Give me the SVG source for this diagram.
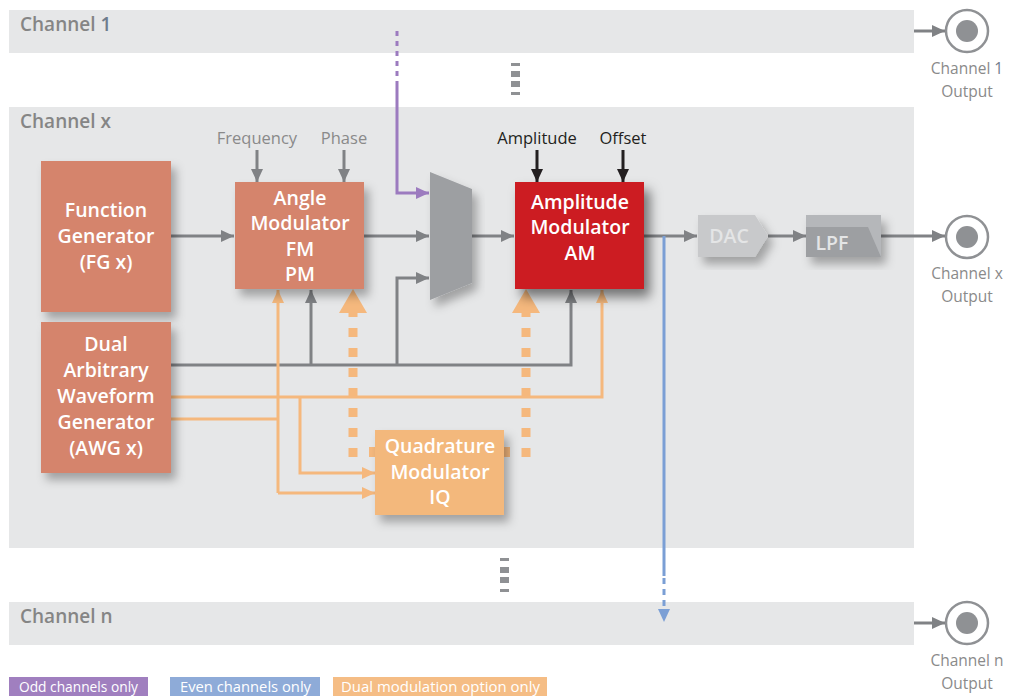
<svg xmlns="http://www.w3.org/2000/svg" width="1011" height="696" viewBox="0 0 1011 696">
<style>
.band{fill:#e6e7e8}
.chl{font-family:"Open Sans","Noto Sans",sans-serif;font-size:19px;font-weight:600;fill:#858585}
.outl{font-family:"Open Sans","Noto Sans",sans-serif;font-size:15.5px;fill:#8a8a8a;text-anchor:middle}
.box{font-family:"Open Sans","Noto Sans",sans-serif;font-size:19.5px;font-weight:600;fill:#ffffff;text-anchor:middle}
.lbl{font-family:"Open Sans","Noto Sans",sans-serif;font-size:16.5px;fill:#8a8a8a;text-anchor:middle}
.lblk{font-family:"Open Sans","Noto Sans",sans-serif;font-size:16.5px;fill:#231f20;text-anchor:middle}
.leg{font-family:"Open Sans","Noto Sans",sans-serif;font-size:15px;fill:#ffffff}
.g{fill:none;stroke:#808285;stroke-width:3}
.k{fill:none;stroke:#231f20;stroke-width:3}
.o{fill:none;stroke:#f5b87d;stroke-width:3}
.od{fill:none;stroke:#f5b87d;stroke-width:9;stroke-dasharray:9 11}
.p{fill:none;stroke:#9c7bbf;stroke-width:3}
.b{fill:none;stroke:#7b9fd5;stroke-width:3}
.ring{fill:none;stroke:#8f9194;stroke-width:2.5}
.dot{fill:#8f9194}
</style>
<defs>
<filter id="sh" x="-20%" y="-20%" width="150%" height="150%">
<feDropShadow dx="5" dy="7" stdDeviation="5" flood-color="#000" flood-opacity="0.3"/>
</filter>
<filter id="shd" x="-20%" y="-20%" width="150%" height="150%">
<feDropShadow dx="6" dy="8" stdDeviation="6" flood-color="#000" flood-opacity="0.5"/>
</filter>
<marker id="ag" markerUnits="userSpaceOnUse" markerWidth="14" markerHeight="14" refX="13" refY="7" orient="auto"><path d="M0,1 L13,7 L0,13 z" fill="#808285"/></marker>
<marker id="ak" markerUnits="userSpaceOnUse" markerWidth="14" markerHeight="14" refX="13" refY="7" orient="auto"><path d="M0,1 L13,7 L0,13 z" fill="#231f20"/></marker>
<marker id="ao" markerUnits="userSpaceOnUse" markerWidth="14" markerHeight="14" refX="13" refY="7" orient="auto"><path d="M0,1 L13,7 L0,13 z" fill="#f5b87d"/></marker>
<marker id="ap" markerUnits="userSpaceOnUse" markerWidth="14" markerHeight="14" refX="13" refY="7" orient="auto"><path d="M0,1 L13,7 L0,13 z" fill="#9c7bbf"/></marker>
<marker id="ab" markerUnits="userSpaceOnUse" markerWidth="14" markerHeight="14" refX="13" refY="7" orient="auto"><path d="M0,1 L13,7 L0,13 z" fill="#7b9fd5"/></marker>
</defs>

<g id="channel1">
<rect class="band" x="9" y="10" width="905" height="43"/>
<text class="chl" x="20" y="31">Channel <tspan fill="#6f7c8c">1</tspan></text>
</g>
<g id="channelx">
<rect class="band" x="9" y="107" width="905" height="441"/>
<text class="chl" x="20" y="128">Channel x</text>
</g>
<g id="channeln">
<rect class="band" x="9" y="602" width="905" height="43"/>
<text class="chl" x="20" y="623">Channel n</text>
</g>

<g id="ellipsis1" fill="#8f9194">
<rect x="511" y="63" width="9" height="3"/><rect x="511" y="71" width="9" height="6"/><rect x="511" y="81" width="9" height="6"/><rect x="511" y="92" width="9" height="3"/>
</g>
<g id="ellipsis2" fill="#8f9194">
<rect x="500" y="558" width="9" height="3"/><rect x="500" y="567" width="9" height="6"/><rect x="500" y="577" width="9" height="6"/><rect x="500" y="589" width="9" height="3"/>
</g>

<g id="out1">
<circle class="ring" cx="967" cy="31" r="21"/><circle class="dot" cx="967" cy="31" r="11"/>
<text class="outl" x="967" y="74">Channel <tspan fill="#6f7c8c">1</tspan></text>
<text class="outl" x="967" y="97">Output</text>
</g>
<g id="outx">
<circle class="ring" cx="967" cy="237" r="21"/><circle class="dot" cx="967" cy="237" r="11"/>
<text class="outl" x="967" y="279">Channel x</text>
<text class="outl" x="967" y="302">Output</text>
</g>
<g id="outn">
<circle class="ring" cx="967" cy="623" r="21"/><circle class="dot" cx="967" cy="623" r="11"/>
<text class="outl" x="967" y="666">Channel n</text>
<text class="outl" x="967" y="689">Output</text>
</g>

<g id="labels">
<text class="lbl" x="257" y="144">Frequency</text>
<text class="lbl" x="344" y="144">Phase</text>
<text class="lblk" x="537" y="144">Amplitude</text>
<text class="lblk" x="623" y="144">Offset</text>
</g>

<g id="connectors">
<path class="g" d="M171,236 H234" marker-end="url(#ag)"/>
<path class="g" d="M364,236 H429" marker-end="url(#ag)"/>
<path class="g" d="M472,236 H514" marker-end="url(#ag)"/>
<path class="g" d="M257,150 V182" marker-end="url(#ag)"/>
<path class="g" d="M344,150 V182" marker-end="url(#ag)"/>
<path class="k" d="M537,150 V182" marker-end="url(#ak)"/>
<path class="k" d="M623,150 V182" marker-end="url(#ak)"/>
<path class="g" d="M170,365 H571 V290" marker-end="url(#ag)"/>
<path class="g" d="M311,365 V290" marker-end="url(#ag)"/>
<path class="g" d="M397,365 V278 H429" marker-end="url(#ag)"/>
<path class="g" d="M644,236 H697" marker-end="url(#ag)"/>
<path class="g" d="M768,236 H806" marker-end="url(#ag)"/>
<path class="g" d="M881,236 H945" marker-end="url(#ag)"/>
<path class="g" d="M914,31 H945" marker-end="url(#ag)"/>
<path class="g" d="M914,623 H945" marker-end="url(#ag)"/>
<path class="p" d="M397,31 V82" stroke-dasharray="5 5"/>
<path class="p" d="M397,82 V193 H429" marker-end="url(#ap)"/>
<path class="b" d="M664,236 V576"/>
<path class="b" d="M664,578 V622" stroke-dasharray="6 5" marker-end="url(#ab)"/>
<path class="o" d="M170,397 H602 V290" marker-end="url(#ao)"/>
<path class="o" d="M300,397 V473 H375" marker-end="url(#ao)"/>
<path class="o" d="M170,419 H278"/>
<path class="o" d="M278,493 V290" marker-end="url(#ao)"/>
<path class="o" d="M278,493 H375" marker-end="url(#ao)"/>
<path class="od" d="M353,457 V313"/>
<path class="od" d="M526,457 V313"/>
<polygon points="353,289 339,313 367,313" fill="#f5b87d"/>
<polygon points="526,289 512,313 540,313" fill="#f5b87d"/>
<rect x="369" y="447" width="7" height="10" fill="#f5b87d"/>
<rect x="503" y="447" width="7" height="10" fill="#f5b87d"/>
</g>

<g id="fg">
<rect x="41" y="161" width="130" height="151" fill="#d5846c" filter="url(#sh)"/>
<text class="box" x="106" y="217">Function</text>
<text class="box" x="106" y="243">Generator</text>
<text class="box" x="106" y="269">(FG x)</text>
</g>
<g id="awg">
<rect x="41" y="322" width="130" height="151" fill="#d5846c" filter="url(#sh)"/>
<text class="box" x="106" y="351">Dual</text>
<text class="box" x="106" y="377">Arbitrary</text>
<text class="box" x="106" y="403">Waveform</text>
<text class="box" x="106" y="429">Generator</text>
<text class="box" x="106" y="455">(AWG x)</text>
</g>
<g id="anglemod">
<rect x="235" y="182" width="129" height="107" fill="#d5846c" filter="url(#sh)"/>
<text class="box" x="300" y="205">Angle</text>
<text class="box" x="300" y="230">Modulator</text>
<text class="box" x="300" y="256">FM</text>
<text class="box" x="300" y="281">PM</text>
</g>
<g id="mux">
<polygon points="430,172 472,189 472,283 430,300" fill="#9d9fa2" filter="url(#sh)"/>
</g>
<g id="ammod">
<rect x="515" y="182" width="129" height="107" fill="#cc1d24" filter="url(#shd)"/>
<text class="box" x="580" y="209">Amplitude</text>
<text class="box" x="580" y="234">Modulator</text>
<text class="box" x="580" y="260">AM</text>
</g>
<g id="dac">
<polygon points="698,215 755,215 768,236 755,257 698,257" fill="#c8c9cb" filter="url(#sh)"/>
<text class="box" x="729" y="243" style="fill:#e4e5e6">DAC</text>
</g>
<g id="lpf">
<rect x="806" y="215" width="75" height="42" fill="#b5b7ba" filter="url(#sh)"/>
<polygon points="806,227 868,227 881,257 806,257" fill="#9d9fa2"/>
<text class="box" x="832" y="250" style="fill:#e4e5e6">LPF</text>
</g>
<g id="iq">
<rect x="375" y="430" width="129" height="85" fill="#f3b87c" filter="url(#sh)"/>
<text class="box" x="440" y="453">Quadrature</text>
<text class="box" x="440" y="479">Modulator</text>
<text class="box" x="440" y="504">IQ</text>
</g>

<g id="legend">
<rect x="9" y="677" width="139" height="19" fill="#a07fbf"/>
<text class="leg" x="19" y="692" textLength="119" lengthAdjust="spacingAndGlyphs">Odd channels only</text>
<rect x="170" y="677" width="150" height="19" fill="#8eabd8"/>
<text class="leg" x="180" y="692" textLength="131" lengthAdjust="spacingAndGlyphs">Even channels only</text>
<rect x="333" y="677" width="214" height="19" fill="#f5bd85"/>
<text class="leg" x="341" y="692" textLength="199" lengthAdjust="spacingAndGlyphs">Dual modulation option only</text>
</g>
</svg>
